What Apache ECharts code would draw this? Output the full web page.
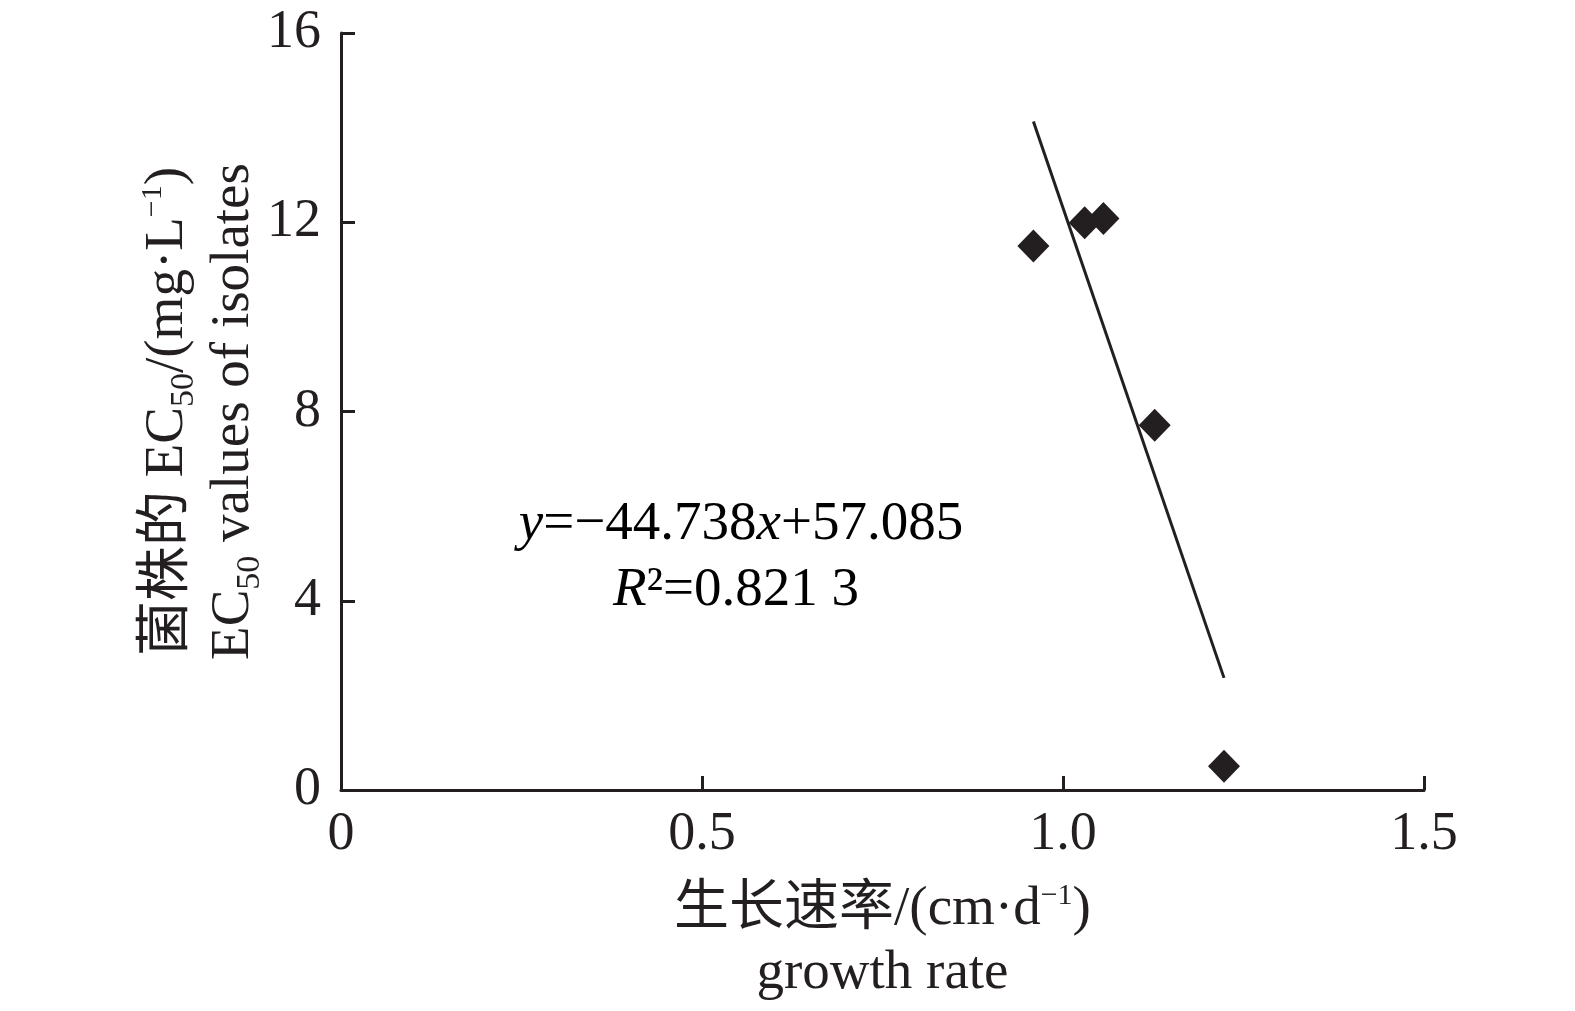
<!DOCTYPE html>
<html>
<head>
<meta charset="utf-8">
<script src="https://cdn.jsdelivr.net/npm/echarts@6/dist/echarts.min.js"></script>
<style>html,body{margin:0;padding:0;background:#fff;}#c{width:1575px;height:1011px;}</style>
</head>
<body>
<div id="c"></div>
<script>
var growthRate = [0.959, 1.030, 1.056, 1.127, 1.223];
var ec50 = [11.50, 11.99, 12.08, 7.71, 0.50];
var trendX = [0.959, 1.223];
var trendY = [14.13, 2.37];
var xTicks = [0, 0.5, 1.0, 1.5];
var yTicks = [0, 4, 8, 12, 16];

var FONT = '"Liberation Serif", "Noto Sans CJK SC", serif';
var INK = '#231f20';
var chart = echarts.init(document.getElementById('c'));
var FS = 55;
var base = {fontFamily: FONT, color: INK, fontSize: FS};
var sub = {fontFamily: FONT, color: INK, fontSize: 34, verticalAlign: 'bottom'};
var sup = {fontFamily: FONT, color: INK, fontSize: 30, verticalAlign: 'top', lineHeight: 30, padding: [3, 0, 0, 0]};

chart.setOption({
  animation: false,
  backgroundColor: '#fff',
  grid: {left: 341, right: 151, top: 33, bottom: 218, containLabel: false},
  xAxis: {
    type: 'value', min: 0, max: 1.5, interval: 0.5,
    axisLine: {lineStyle: {color: INK, width: 3}},
    axisTick: {inside: true, length: 14, lineStyle: {color: INK, width: 3}},
    splitLine: {show: false},
    axisLabel: {margin: 18, fontFamily: FONT, color: INK, fontSize: 54,
      formatter: function(v){ return v === 0 ? '0' : v.toFixed(1); }},
    name: '{a|生长速率/(cm·d}{s|−1}{a|)}\n{a|growth rate}',
    nameLocation: 'middle', nameGap: 88, nameMoveOverlap: false,
    nameTextStyle: {lineHeight: 64, rich: {a: Object.assign({lineHeight: 64}, base), s: sup}}
  },
  yAxis: {
    type: 'value', min: 0, max: 16, interval: 4,
    axisLine: {lineStyle: {color: INK, width: 3}},
    axisTick: {inside: true, length: 14, lineStyle: {color: INK, width: 3}},
    splitLine: {show: false},
    axisLabel: {margin: 20, fontFamily: FONT, color: INK, fontSize: 54},
    name: '{a|菌株的 EC}{b|50}{a|/(mg·L}{s|−1}{a|)}\n{a|EC}{b|50}{a| values of isolates}',
    nameLocation: 'middle', nameGap: 74, nameRotate: 90, nameMoveOverlap: false,
    nameTextStyle: {lineHeight: 66, rich: {
      a: Object.assign({lineHeight: 66}, base),
      b: Object.assign({lineHeight: 66}, sub),
      s: sup}}
  },
  graphic: [
    {type: 'text', x: 741, y: 525, style: {
      text: '{i|y}{a|=−44.738}{i|x}{a|+57.085}', align: 'center', verticalAlign: 'middle',
      rich: {a: base, i: Object.assign({fontStyle: 'italic'}, base)}}},
    {type: 'text', x: 736, y: 591, style: {
      text: '{i|R}{a|²=0.821 3}', align: 'center', verticalAlign: 'middle',
      rich: {a: base, i: Object.assign({fontStyle: 'italic'}, base)}}}
  ],
  series: [
    {type: 'line', data: trendX.map(function(x,i){return [x, trendY[i]];}),
     symbol: 'none', lineStyle: {color: INK, width: 3}, z: 2},
    {type: 'scatter', data: growthRate.map(function(x,i){return [x, ec50[i]];}),
     symbol: 'diamond', symbolSize: [32, 33], itemStyle: {color: INK, opacity: 1}, z: 3}
  ]
});
</script>
</body>
</html>
